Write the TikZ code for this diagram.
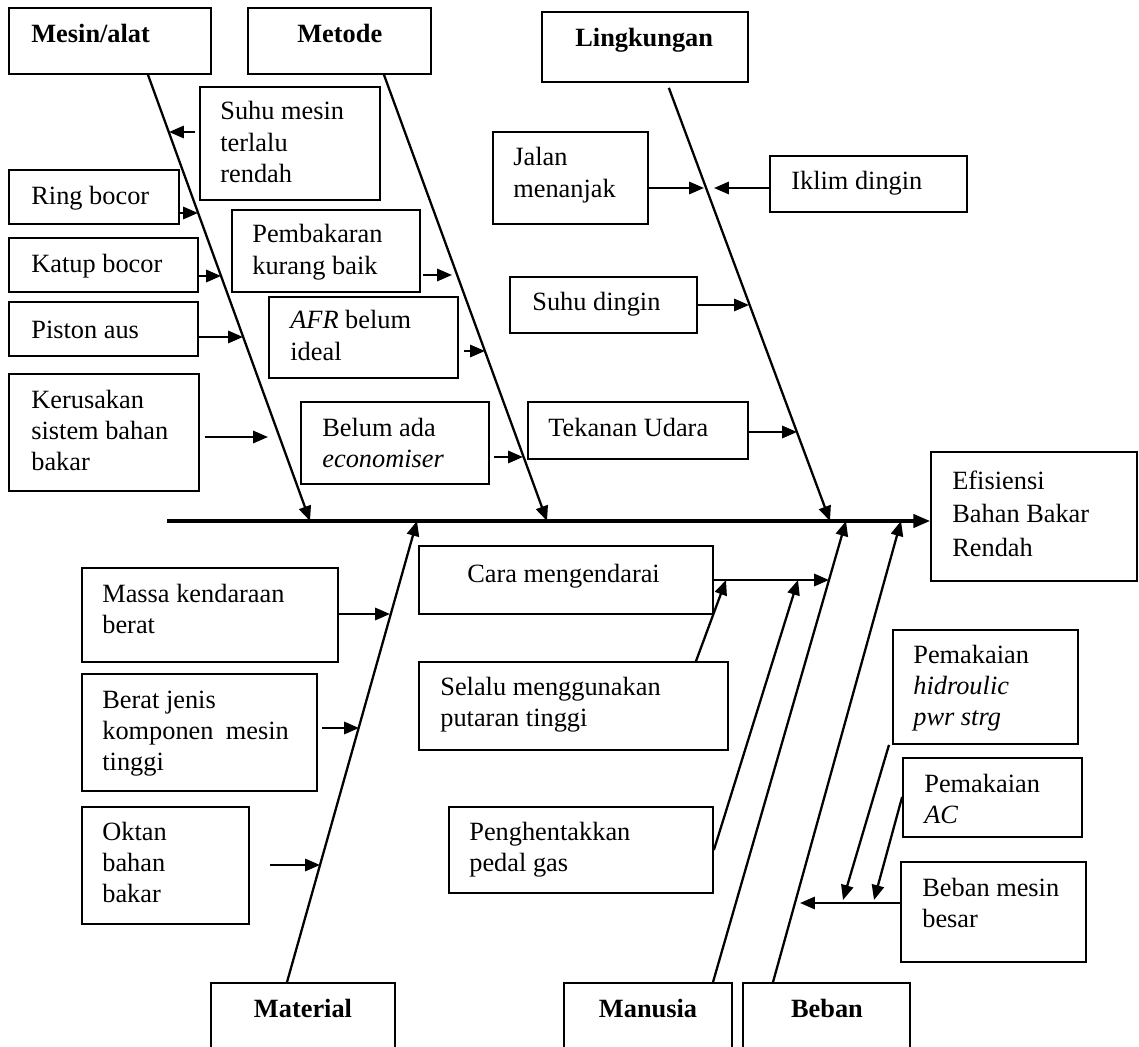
\documentclass[tikz,border=0pt]{standalone}
\usepackage{fontspec}
\setmainfont{Liberation Serif}
\usetikzlibrary{arrows.meta,fit}
\newcommand\mkbox[5]{\node[cbox, fit={(#2,#3) (#4,#5)}] (#1) {};}
\newcommand\ml[1]{\begin{tabular}[t]{@{}l@{}}#1\end{tabular}}
\begin{document}
\begin{tikzpicture}[x=0.02cm, y=-0.02cm,
  cbox/.style={draw, line width=1pt, inner sep=0pt},
  txt/.style={inner sep=0pt, anchor=base west, font=\fontsize{15pt}{17.9pt}\selectfont},
  ctxt/.style={inner sep=0pt, anchor=base, font=\fontsize{15pt}{17.9pt}\selectfont\bfseries},
  arr/.style={line width=1.3pt, -{Triangle[length=8.5pt,width=7pt]}},
  spine/.style={line width=1.9pt, -{Triangle[length=9.5pt,width=7.5pt]}}]
\useasboundingbox (0,0) rectangle (1139,1047);
\clip (0,0) rectangle (1139,1047);

% boxes
\mkbox{mesin}{9}{8}{211}{74}
\mkbox{metode}{248}{8}{431}{74}
\mkbox{lingk}{542}{12}{748}{82}
\mkbox{suhu}{200}{87}{380}{200}
\mkbox{ring}{9}{170}{179}{224}
\mkbox{katup}{9}{238}{198}{292}
\mkbox{piston}{9}{302}{198}{356}
\mkbox{kerus}{9}{374}{199}{491}
\mkbox{pemb}{232}{210}{420}{292}
\mkbox{afr}{269}{297}{458}{378}
\mkbox{belum}{301}{402}{489}{484}
\mkbox{jalan}{493}{132}{648}{224}
\mkbox{iklim}{770}{156}{967}{212}
\mkbox{suhud}{510}{277}{697}{333}
\mkbox{tekanan}{528}{402}{748}{459}
\mkbox{eff}{931}{452}{1137}{581}
\mkbox{cara}{419}{546}{713}{614}
\mkbox{selalu}{419}{662}{728}{750}
\mkbox{pengh}{449}{807}{713}{893}
\mkbox{massa}{82}{568}{338}{662}
\mkbox{berat}{82}{674}{317}{791}
\mkbox{oktan}{82}{807}{249}{924}
\mkbox{material}{211}{983}{395}{1070}
\mkbox{manusia}{564}{983}{732}{1070}
\mkbox{beban}{743}{983}{910}{1070}
\mkbox{hidro}{893}{630}{1078}{744}
\mkbox{ac}{903}{758}{1082}{837}
\mkbox{bmesin}{901}{862}{1086}{962}

% texts
\node[txt] (t-mesin) at (31,43) {\textbf{Mesin/alat}};
\node[txt] (t-metode) at (297,43) {\textbf{Metode}};
\node[txt] (t-lingk) at (575,47) {\textbf{Lingkungan}};
\node[txt] (t-suhu) at (220,120) {\ml{Suhu mesin\\terlalu\\rendah}};
\node[txt] (t-ring) at (31,205) {Ring bocor};
\node[txt] (t-katup) at (31,273) {Katup bocor};
\node[txt] (t-piston) at (31,338) {Piston aus};
\node[txt] (t-kerus) at (31,408) {\ml{Kerusakan\\sistem bahan\\bakar}};
\node[txt] (t-pemb) at (252,243) {\ml{Pembakaran\\kurang baik}};
\node[txt] (t-afr) at (290,329) {\ml{\textit{AFR} belum\\ideal}};
\node[txt] (t-belum) at (322,436) {\ml{Belum ada\\\textit{economiser}}};
\node[txt] (t-jalan) at (513,166) {\ml{Jalan\\menanjak}};
\node[txt] (t-iklim) at (791,190) {Iklim dingin};
\node[txt] (t-suhud) at (532,311) {Suhu dingin};
\node[txt] (t-tekanan) at (548,437) {Tekanan Udara};
\node[txt, font=\fontsize{15pt}{19.3pt}\selectfont] (t-eff) at (952,489) {\ml{Efisiensi\\Bahan Bakar\\Rendah}};
\node[txt] (t-cara) at (467,582) {Cara mengendarai};
\node[txt] (t-selalu) at (440,695) {\ml{Selalu menggunakan\\putaran tinggi}};
\node[txt] (t-pengh) at (469,840) {\ml{Penghentakkan\\pedal gas}};
\node[txt] (t-massa) at (102,602) {\ml{Massa kendaraan\\berat}};
\node[txt] (t-berat) at (102,708) {\ml{Berat jenis\\komponen\hspace{7pt}mesin\\tinggi}};
\node[txt] (t-oktan) at (102,840) {\ml{Oktan\\bahan\\bakar}};
\node[ctxt] (t-material) at (303,1017) {Material};
\node[ctxt] (t-manusia) at (648,1017) {Manusia};
\node[ctxt] (t-beban) at (827,1017) {Beban};
\node[txt] (t-hidro) at (913,663) {\ml{Pemakaian\\\textit{hidroulic}\\\textit{pwr strg}}};
\node[txt] (t-ac) at (924,792) {\ml{Pemakaian\\\textit{AC}}};
\node[txt] (t-bmesin) at (922,896) {\ml{Beban mesin\\besar}};

% spine and bones
\coordinate (sL) at (167,521);
\coordinate (tMes) at (310,521);
\coordinate (tMet) at (547,521);
\coordinate (tLin) at (830,521);
\coordinate (tMat) at (417,521);
\coordinate (tMan) at (846,521);
\coordinate (tBeb) at (901,521);
\draw[spine] (sL) -- (sL -| eff.west);
\draw[arr] (148,0 |- mesin.south) -- (tMes);
\draw[arr] (384,0 |- metode.south) -- (tMet);
\draw[arr, shorten <=0.106cm] (667,0 |- lingk.south) -- (tLin);
\draw[arr] (287,0 |- material.north) -- (tMat);
\draw[arr] (713,0 |- manusia.north) -- (tMan);
\draw[arr] (773,0 |- beban.north) -- (tBeb);

% sub-cause arrows
\coordinate (aSuhu) at (169,132);
\coordinate (aRing) at (198,213);
\coordinate (aKatup) at (221,276);
\coordinate (aPiston) at (243,337);
\coordinate (aKer) at (268,437);
\coordinate (aPemb) at (452,275);
\coordinate (aAfr) at (485,351);
\coordinate (aBelum) at (523,457);
\coordinate (aJalan) at (704,188);
\coordinate (aIklim) at (714,188);
\coordinate (aSuhuD) at (749,305);
\coordinate (aTek) at (797,432);
\coordinate (aCara) at (829,580);
\coordinate (aSel) at (726,580);
\coordinate (aPeng) at (798,580);
\coordinate (aMassa) at (390,614);
\coordinate (aBerat) at (359,728);
\coordinate (aOktan) at (320,865);
\coordinate (aBM) at (800,903);
\coordinate (aHid) at (843,900);
\coordinate (aAC) at (874,900);

\draw[arr, shorten <=0.08cm] (suhu.west |- 0,132) -- (aSuhu);
\draw[arr] (ring.east |- 0,213) -- (aRing);
\draw[arr] (katup.east |- 0,276) -- (aKatup);
\draw[arr] (piston.east |- 0,337) -- (aPiston);
\draw[arr, shorten <=0.1cm] (kerus.east |- 0,437) -- (aKer);
\draw[arr, shorten <=0.04cm] (pemb.east |- 0,275) -- (aPemb);
\draw[arr, shorten <=0.1cm] (afr.east |- 0,351) -- (aAfr);
\draw[arr, shorten <=0.08cm] (belum.east |- 0,457) -- (aBelum);
\draw[arr] (jalan.east |- 0,188) -- (aJalan);
\draw[arr] (iklim.west |- 0,188) -- (aIklim);
\draw[arr] (suhud.east |- 0,305) -- (aSuhuD);
\draw[arr] (tekanan.east |- 0,432) -- (aTek);
\draw[arr] (cara.east |- 0,580) -- (aCara);
\draw[arr] (696,0 |- selalu.north) -- (aSel);
\draw[arr] (pengh.east |- 0,850) -- (aPeng);
\draw[arr] (massa.east |- 0,614) -- (aMassa);
\draw[arr, shorten <=0.08cm] (berat.east |- 0,728) -- (aBerat);
\draw[arr, shorten <=0.4cm] (oktan.east |- 0,865) -- (aOktan);
\draw[arr] (bmesin.west |- 0,903) -- (aBM);
\draw[arr] (889,0 |- hidro.south) -- (aHid);
\draw[arr] (ac.west |- 0,797) -- (aAC);
\end{tikzpicture}
\end{document}
